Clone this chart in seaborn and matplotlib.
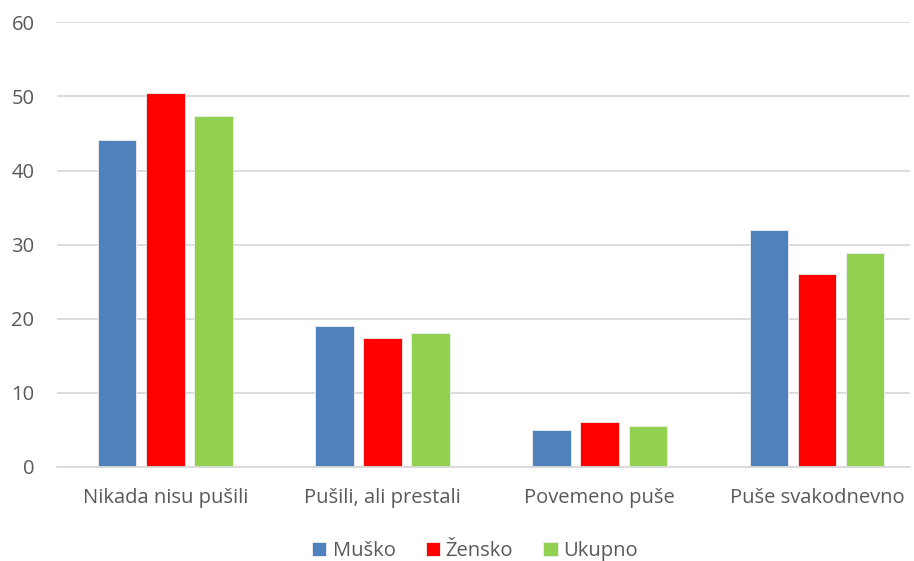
import numpy as np
import pandas as pd
import seaborn as sns
import matplotlib.pyplot as plt

categories = ["Nikada nisu pušili", "Pušili, ali prestali", "Povemeno puše", "Puše svakodnevno"]
musko = [44.1, 19.0, 4.9, 32.0]
zensko = [50.5, 17.4, 6.0, 26.0]
ukupno = [47.4, 18.1, 5.5, 28.9]
series = ["Muško", "Žensko", "Ukupno"]
colors = ["#4F81BD", "#FF0000", "#92D050"]

df = pd.DataFrame({
    "kategorija": categories * 3,
    "vrijednost": musko + zensko + ukupno,
    "spol": [s for s in series for _ in categories],
})

sns.set_theme(style="white")
plt.rcParams['font.family'] = ['Open Sans', 'DejaVu Sans']

fig = plt.figure(figsize=(9.14, 5.61), dpi=100)
ax = fig.add_axes([0.062, 0.168, 0.934, 0.792])

sns.barplot(data=df, x="kategorija", y="vrijednost", hue="spol",
            palette=colors, saturation=1, width=0.665, gap=0.2, ax=ax,
            edgecolor="#F0F0F0", linewidth=0.6, legend=True)

ax.set_ylim(0, 60)
ax.set_yticks(range(0, 61, 10))
ax.set_xlim(-0.5, 3.43)
ax.yaxis.grid(True, color="#D9D9D9", linewidth=1.3)
ax.set_axisbelow(True)
for s in ["top", "right", "left"]:
    ax.spines[s].set_visible(False)
ax.spines["bottom"].set_color("#D9D9D9")
ax.spines["bottom"].set_linewidth(1.3)
ax.set_xlabel("")
ax.set_ylabel("")
ax.tick_params(axis="both", length=0, labelsize=14.5, colors="#595959")
ax.tick_params(axis="x", pad=15)
ax.tick_params(axis="y", pad=16)

handles, labels = ax.get_legend_handles_labels()
ax.get_legend().remove()
fig.legend(handles, labels, loc="lower center", bbox_to_anchor=(0.52, -0.033),
           ncol=3, frameon=False, fontsize=14.5, labelcolor="#595959",
           handlelength=0.7, handleheight=0.7, handletextpad=0.3, columnspacing=1.5)

fig.savefig("out.png", dpi=100)
